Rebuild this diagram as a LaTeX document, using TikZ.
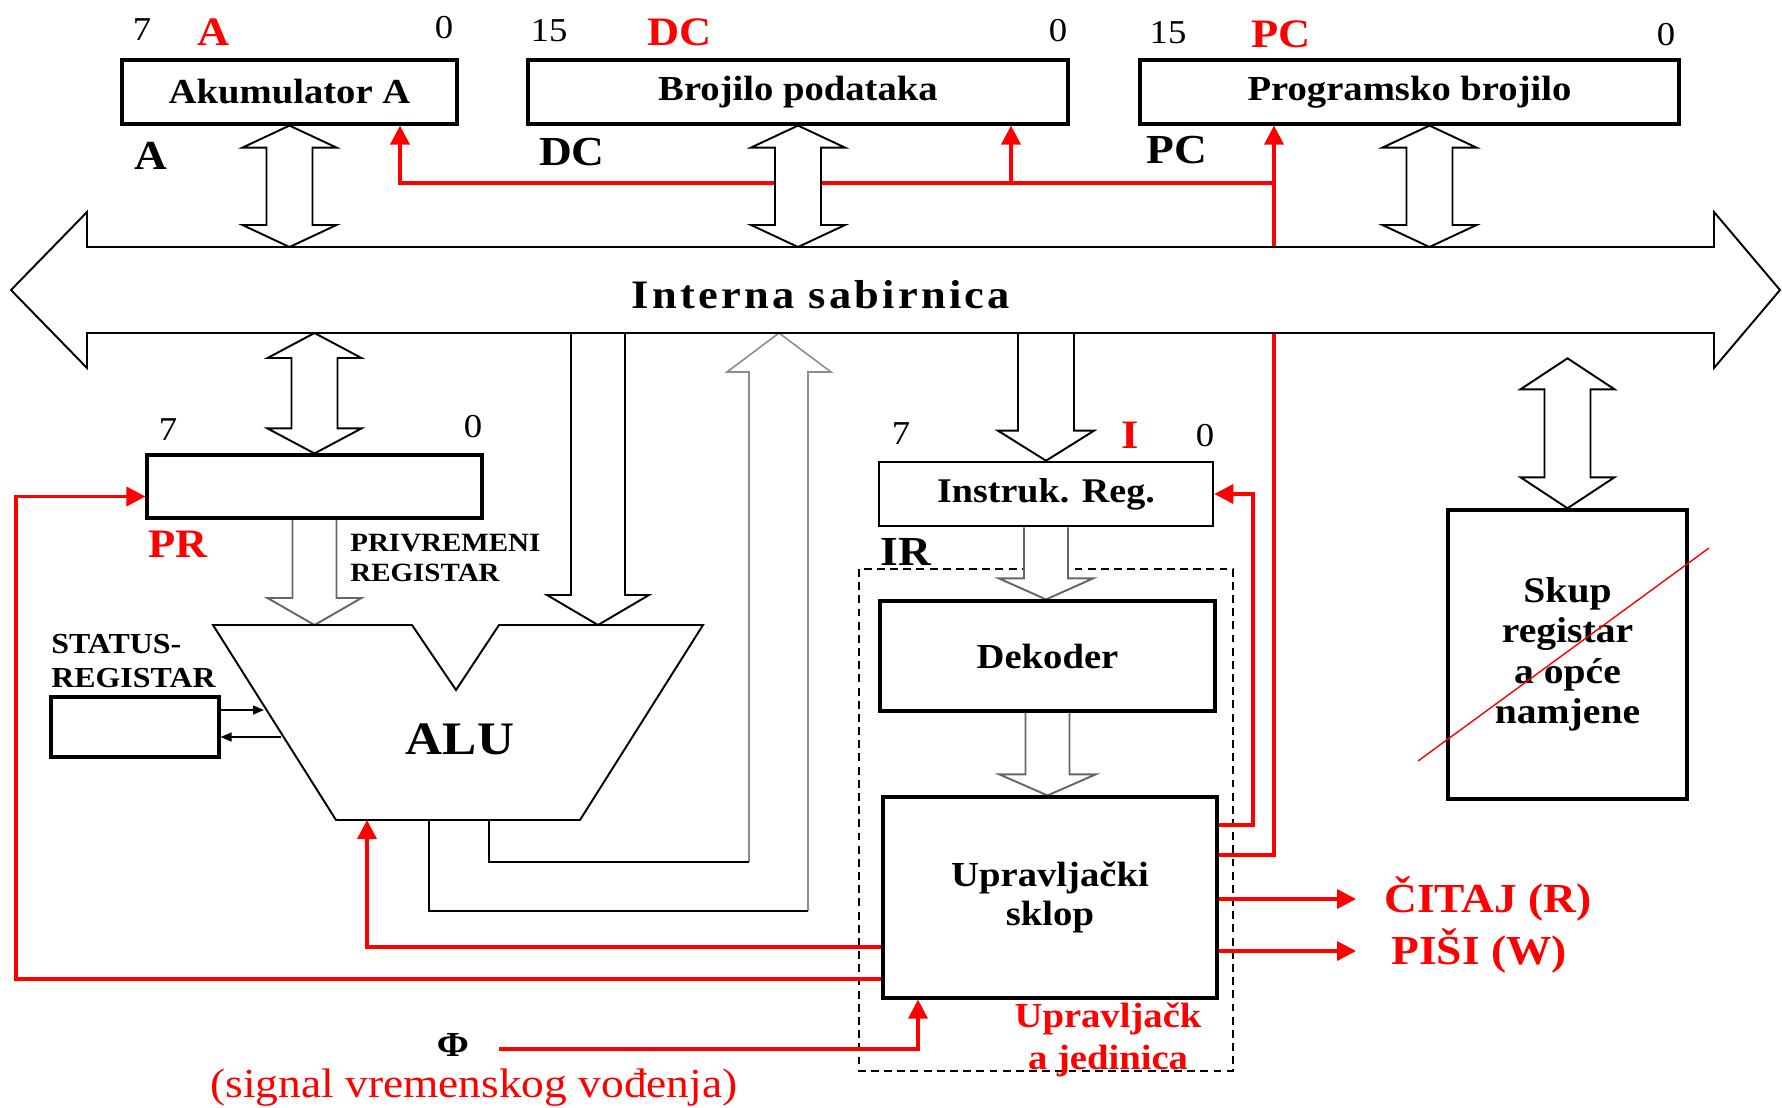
\documentclass[tikz,border=0pt]{standalone}
\usepackage{fontspec}
\setmainfont{Liberation Serif}[FakeStretch=1.1]
\newfontfamily\busfont{Liberation Serif}[FakeStretch=1.1, LetterSpace=8]
\usetikzlibrary{arrows.meta,calc,backgrounds}

% hollow double arrow: top tip, bottom tip, head length
\newcommand{\dblhollow}[3]{%
  \draw[hollow] let \p1=#1, \p2=#2 in
    (\p1) -- ++(47,#3) -- ++(-24,0) -- ($(\x1,\y2)+(23,-#3)$) -- ++(24,0) -- (\x1,\y2)
    -- ++(-47,-#3) -- ++(24,0) -- ($(\x1,\y1)+(-23,#3)$) -- ++(-24,0) -- cycle;}
% hollow arrow pointing down: style, start, tip, shaft half, head half, head length
\newcommand{\downhollow}[6]{%
  \draw[#1] let \p1=#2, \p2=#3 in
    ($(\x1,\y1)+(-#4,0)$) -- ($(\x1,\y2)+(-#4,-#6)$) -- ($(\x1,\y2)+(-#5,-#6)$) -- (\x1,\y2)
    -- ($(\x1,\y2)+(#5,-#6)$) -- ($(\x1,\y2)+(#4,-#6)$) -- ($(\x1,\y1)+(#4,0)$);}

\begin{document}
\begin{tikzpicture}[x=0.02cm, y=-0.02cm,
  reg/.style={draw, line width=1.8pt, inner sep=0pt, font=\fontsize{20}{23}\selectfont\bfseries},
  idx/.style={inner sep=0pt, font=\fontsize{19}{22}\selectfont},
  rname/.style={inner sep=0pt, text=red, font=\fontsize{23}{26}\selectfont\bfseries},
  bname/.style={inner sep=0pt, font=\fontsize{23.5}{26}\selectfont\bfseries},
  caps/.style={inner sep=0pt, anchor=west, align=left, font=\fontsize{15}{17}\selectfont\bfseries},
  sig/.style={draw=red, line width=2pt},
  sigarrow/.style={sig, -{Triangle[length=0.38cm, width=0.38cm]}},
  flagarrow/.style={draw, line width=0.8pt, -{Triangle[length=0.22cm, width=0.18cm]}},
  hollow/.style={draw, fill=white, line width=1.1pt, line join=miter},
  dimhollow/.style={hollow, draw=black!60},
  feed/.style={draw, line width=0.9pt},
  dimfeed/.style={feed, draw=black!45}]

\useasboundingbox (0,0) rectangle (1782,1107);

% registers on top
\node[reg, minimum width=6.7cm, minimum height=1.28cm] (acc) at (289.5,92) {Akumulator A};
\node[reg, minimum width=10.8cm, minimum height=1.28cm] (dc) at (798,92) {Brojilo podataka};
\node[reg, minimum width=10.78cm, minimum height=1.28cm] (pc) at (1409.5,92) {Programsko brojilo};

\node[idx] (acc7) at (142,30) {7};
\node[rname] (accname) at (214,32) {A};
\node[idx] (acc0) at (444,28) {0};
\node[bname] (acclbl) at (151,156) {A};
\node[idx] (dc15) at (549,31) {15};
\node[rname] (dcname) at (680,32) {DC};
\node[idx] (dc0) at (1058,31) {0};
\node[bname] (dclbl) at (572,152) {DC};
\node[idx] (pc15) at (1168,33) {15};
\node[rname] (pcname) at (1281,34) {PC};
\node[idx] (pc0) at (1666,35) {0};
\node[bname] (pclbl) at (1177,150) {PC};

\node[inner sep=0pt, font=\fontsize{23}{26}\busfont\bfseries] (bustext) at (821,295) {Interna sabirnica};

% ALU side
\node[reg, minimum width=6.7cm, minimum height=1.26cm] (pr) at (314.5,486.5) {};
\node[idx] (pr7) at (168,430) {7};
\node[idx] (pr0) at (473,427) {0};
\node[rname] (prname) at (178,544) {PR};
\node[caps] (prtext) at (350,558) {PRIVREMENI\\REGISTAR};
\node[reg, minimum width=3.36cm, minimum height=1.2cm] (status) at (135,727) {};
\node[caps, font=\fontsize{16.5}{19}\selectfont\bfseries] (sttext) at (51,661) {STATUS-\\REGISTAR};
\node[inner sep=0pt, font=\fontsize{26.5}{29}\selectfont\bfseries] (alulbl) at (460,739) {ALU};

\coordinate (alutl) at (213,625);
\coordinate (alutr) at (703,625);
\coordinate (alubl) at (336,820);
\coordinate (alubr) at (580,820);
\coordinate (aluin) at (598,625);
\draw[line width=1.1pt, line join=miter] (alutl) -- (412,625) -- (456,690) -- (499,625) -- (alutr) -- (alubr) -- (alubl) -- cycle;

\coordinate (stin) at (264,710);
\coordinate (stout) at (281,737);
\draw[flagarrow] (status.east |- stin) -- (stin);
\draw[flagarrow] (stout) -- (status.east |- stout);

% control unit
\node[reg, line width=1.5pt, minimum width=6.68cm, minimum height=1.28cm, font=\fontsize{19.7}{22}\selectfont\bfseries] (ir) at (1046,494) {Instruk. Reg.};
\node[idx] (ir7) at (901,434) {7};
\node[rname] (irname) at (1130,435) {I};
\node[idx] (ir0) at (1205,436) {0};
\node[bname] (irlbl) at (906,552) {IR};
\node[reg, minimum width=6.7cm, minimum height=2.2cm] (dek) at (1047.5,656) {Dekoder};
\node[reg, minimum width=6.68cm, minimum height=4.02cm, align=center, font=\fontsize{20}{22}\selectfont\bfseries] (upr) at (1050,897.5) {Upravljački\\sklop};
\node[inner sep=0pt, align=center, text=red, font=\fontsize{20}{24}\selectfont\bfseries] (cu) at (1108,1040) {Upravljačk\\a jedinica};

\node[inner sep=0pt, anchor=west, text=red, font=\fontsize{23.5}{26}\selectfont\bfseries] (rd) at (1384,899) {ČITAJ (R)};
\node[inner sep=0pt, anchor=west, text=red, font=\fontsize{23.5}{26}\selectfont\bfseries] (wr) at (1391,951) {PIŠI (W)};
\node[inner sep=0pt, font=\fontsize{20}{22}\selectfont\bfseries] (phi) at (453,1045) {Φ};
\node[inner sep=0pt, text=red, font=\fontsize{23.5}{26}\selectfont] (clk) at (474,1088) {(signal vremenskog vođenja)};

% register set
\node[reg, line width=2pt, minimum width=4.78cm, minimum height=5.78cm, align=center, font=\fontsize{20.5}{23}\selectfont\bfseries] (skup) at (1567.5,654.5) {Skup\\registar\\a opće\\namjene};
\draw[red, line width=0.8pt] (1418,761) -- (1709,548);

\coordinate (bust) at (0,247);
\coordinate (busb) at (0,333);
\coordinate (pcbus) at ([xshift=0.4cm]pc.south);
\coordinate (jn) at (1274,183);
\coordinate (accin) at (400,183);
\coordinate (dcin) at (1011,183);
\coordinate (pcx) at (1274,855);
\coordinate (irx) at (1253,825);
\coordinate (alux) at (367,947);
\coordinate (prx) at (16,979);
\coordinate (phix) at (918,1049);

\begin{pgfonlayer}{background}
  \draw[dash pattern=on 4.5pt off 3pt, line width=0.8pt] (859,569) rectangle (1233,1071);

  % control signals
  \draw[sigarrow] (upr.east |- pcx) -- (pcx) -- (pcx |- pc.south);
  \draw[sigarrow] (jn) -- (accin) -- (accin |- acc.south);
  \draw[sigarrow] (dcin) -- (dcin |- dc.south);
  \draw[sigarrow] (upr.east |- irx) -- (irx) |- (ir.east);
  \draw[sigarrow] (upr.east |- rd.west) -- ([xshift=-0.56cm]rd.west);
  \draw[sigarrow] (upr.east |- wr.west) -- ([xshift=-0.7cm]wr.west);
  \draw[sigarrow] (upr.west |- alux) -- (alux) -- (alux |- alubl);
  \draw[sigarrow] (upr.west |- prx) -- (prx) |- ([yshift=-0.2cm]pr.west);
  \draw[sigarrow] ([xshift=0.6cm]phi.east |- phix) -- (phix) -- (phix |- upr.south);

  % data paths
  \dblhollow{(acc.south)}{(acc.south |- bust)}{22}
  \dblhollow{(dc.south)}{(dc.south |- bust)}{22}
  \dblhollow{(pcbus)}{(pcbus |- bust)}{22}
  \dblhollow{(pr.north |- busb)}{(pr.north)}{25}
  \dblhollow{([yshift=3cm]skup.north)}{(skup.north)}{31}
  \downhollow{hollow}{(aluin |- busb)}{(aluin)}{27}{51}{30}
  \downhollow{hollow}{(ir.north |- busb)}{(ir.north)}{28}{48}{30}
  \downhollow{dimhollow}{(pr.south)}{(pr.south |- aluin)}{22}{47}{27}
  \downhollow{dimhollow}{(ir.south)}{(dek.north)}{22}{47}{21}
  \downhollow{dimhollow}{(dek.south)}{(dek.south |- upr.north)}{22}{48}{21}

  % ALU result back to the bus
  \draw[dimfeed] (749,862) -- (749,372) -- (727,372) -- (779,333) -- (831,372) -- (808,372) -- (808,911);
  \draw[feed] (489,820) -- (489,862) -- (749,862);
  \draw[feed] (429,820) -- (429,911) -- (808,911);

  % internal bus
  \draw[hollow] (11,290) -- (87,212) -- (87,247) -- (1714,247) -- (1714,212) -- (1780,290)
    -- (1714,368) -- (1714,333) -- (87,333) -- (87,368) -- cycle;
\end{pgfonlayer}
\end{tikzpicture}
\end{document}
